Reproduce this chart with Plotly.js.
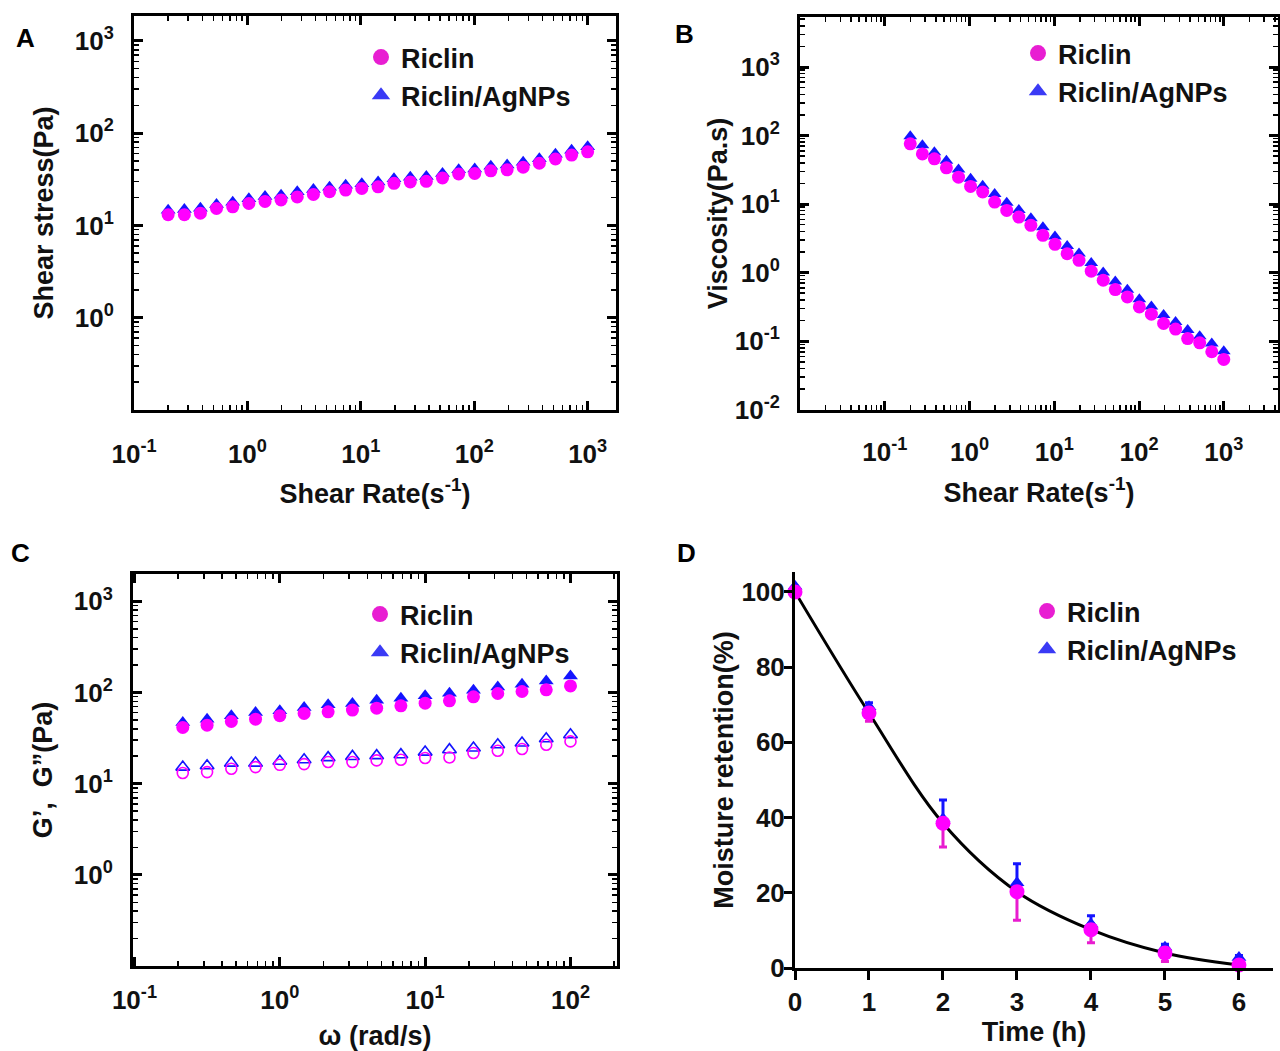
<!DOCTYPE html>
<html>
<head>
<meta charset="utf-8">
<script src="https://cdn.plot.ly/plotly-3.0.1.min.js"></script>
<style>html,body{margin:0;padding:0;background:#fff}#chart{width:1280px;height:1051px}</style>
</head>
<body>
<div id="chart"></div>
<script>
// ---------- data ----------
const seriesNames = ["Riclin", "Riclin/AgNPs"];

// Panel A & B: shear rate (s^-1)
const shearRate = [0.2,0.278,0.385,0.534,0.742,1.03,1.43,1.98,2.75,3.82,5.3,7.35,10.2,14.2,19.6,27.3,37.8,52.5,72.9,101,140,195,270,375,520,722,1000];
// Panel A: shear stress (Pa)
const stressRiclin = [13.1,13.1,13.6,15.3,15.9,17.3,18.2,18.9,20.4,21.7,23.2,24.2,25.2,26.2,28.6,29.6,30.1,32.7,36.1,36.6,39.1,40.1,42.8,47.2,52.5,57.9,62.8];
const stressAg     = [14.6,14.9,15.4,16.9,17.9,19.5,20.6,21.3,23.2,24.5,26.0,27.3,28.4,29.6,32.0,33.2,34.0,36.6,40.2,41.0,43.8,45.2,48.3,52.8,59.0,65.5,71.5];
// Panel B: viscosity (Pa.s)
const viscRiclin = [75.7,54,45.7,33.8,24.7,18.1,15.0,10.7,8.09,6.47,4.89,3.50,2.59,1.89,1.51,1.05,0.773,0.565,0.442,0.316,0.247,0.181,0.150,0.109,0.0946,0.070,0.054];
const viscAg     = [98,72,57,43,32,23.5,18.5,14,10.5,8.2,6.2,4.6,3.35,2.45,1.9,1.38,1.0,0.74,0.56,0.41,0.32,0.24,0.19,0.145,0.118,0.092,0.071];

// Panel C: angular frequency (rad/s), G' (filled) and G'' (open)
const omega = [0.215,0.316,0.464,0.681,1.0,1.47,2.15,3.16,4.64,6.81,10,14.7,21.5,31.6,46.4,68.1,100];
const gpRiclin  = [41.4,43.8,48.1,51.0,55.6,58.9,61.4,64.1,67.3,71.4,76.4,81.0,89.7,97.5,102.6,107,118];
const gpAg      = [47,51,55.6,60.4,63,68.5,73.3,75.8,82.5,86.7,92,98.3,106,115,123,134,152];
const gppRiclin = [13.1,13.4,14.6,15.2,16.1,16.4,17.3,17.3,18,18.3,19.1,19.4,21.7,23,24,26.7,29.1];
const gppAg     = [15.2,15.7,16.8,16.8,17.6,18.3,19.3,19.9,20.3,20.8,22.2,23.6,24.6,26.7,27.9,31.1,34.4];

// Panel D: moisture retention (%)
const timeH = [0,1,2,3,4,5,6];
const moistRiclin = [100,67.8,38.5,20.3,10.2,4.0,0.8];
const errRiclin   = [0,2.2,6.3,7.6,3.5,2.3,0.6];
const moistAg     = [101.5,69.5,39.7,22.7,11.7,5.5,2.8];
const errAg       = [0,1,5,5,2.2,0.8,0.5];
const noErr       = [0,0,0,0,0,0,0];

// tick values / labels
const ticksA_x = [0.1,1,10,100,1000];
const ticksA_y = [1,10,100,1000];
const ticksB_x = [0.1,1,10,100,1000];
const ticksB_y = [0.01,0.1,1,10,100,1000];
const ticksC_x = [0.1,1,10,100];
const ticksC_y = [1,10,100,1000];
const ticksD_x = [0,1,2,3,4,5,6];
const ticksD_y = [0,20,40,60,80,100];

// ---------- styling ----------
const FONT = "Liberation Sans, Arial, Helvetica, sans-serif";
const MAG = "#ff00ff";
const BLUE = "#1414ff";
const LEG_MAG = "#e81ed2";
const LEG_BLUE = "#3a3af5";
const W = 1280, H = 1051;
const px = v => v / W;
const py = v => 1 - v / H;

const tickFont = {family: FONT, size: 26, color: "#111", weight: 700};
const titleFont = {family: FONT, size: 27, color: "#111", weight: 700};

function powLabel(v) {
  const p = Math.round(Math.log10(v));
  return "10<sup>" + p + "</sup>";
}

function logAxis(domain, range, anchor, vals, title, standoff, labelStandoff) {
  return {
    type: "log", domain: domain, range: range, anchor: anchor,
    showgrid: false, zeroline: false,
    showline: true, linecolor: "#000", linewidth: 3, mirror: "allticks",
    ticks: "inside", ticklen: 9, tickwidth: 3, tickcolor: "#000",
    tickmode: "array", tickvals: vals, ticktext: vals.map(powLabel),
    tickfont: tickFont, ticklabelstandoff: labelStandoff,
    minor: {ticks: "inside", ticklen: 5, tickwidth: 1.5, tickcolor: "#000", dtick: "D1", showgrid: false},
    title: {text: title, font: titleFont, standoff: standoff}
  };
}

const legendBase = {
  font: {family: FONT, size: 27, color: "#111", weight: 700},
  bgcolor: "rgba(0,0,0,0)", xanchor: "left", yanchor: "top",
  itemsizing: "trace", tracegroupgap: 0
};

// legend-only entries (no data points), one pair per panel
function legendEntries(xa, ya, leg) {
  return [
    {x: [null], y: [null], xaxis: xa, yaxis: ya, mode: "markers", name: seriesNames[0], legend: leg, legendrank: 1,
     marker: {symbol: "circle", size: 18, color: LEG_MAG}},
    {x: [null], y: [null], xaxis: xa, yaxis: ya, mode: "markers", name: seriesNames[1], legend: leg, legendrank: 2,
     marker: {symbol: "triangle-up", size: 18, color: LEG_BLUE}}
  ];
}

const traces = [
  // Panel A
  {x: shearRate, y: stressAg, xaxis: "x", yaxis: "y", mode: "markers", name: seriesNames[1], showlegend: false,
   marker: {symbol: "triangle-up", size: 13, color: BLUE}},
  {x: shearRate, y: stressRiclin, xaxis: "x", yaxis: "y", mode: "markers", name: seriesNames[0], showlegend: false,
   marker: {symbol: "circle", size: 13, color: MAG}},
  // Panel B
  {x: shearRate, y: viscAg, xaxis: "x2", yaxis: "y2", mode: "markers", name: seriesNames[1], showlegend: false,
   marker: {symbol: "triangle-up", size: 12, color: BLUE}},
  {x: shearRate, y: viscRiclin, xaxis: "x2", yaxis: "y2", mode: "markers", name: seriesNames[0], showlegend: false,
   marker: {symbol: "circle", size: 13, color: MAG}},
  // Panel C
  {x: omega, y: gpAg, xaxis: "x3", yaxis: "y3", mode: "markers", name: seriesNames[1] + " G'", showlegend: false,
   marker: {symbol: "triangle-up", size: 13, color: BLUE}},
  {x: omega, y: gpRiclin, xaxis: "x3", yaxis: "y3", mode: "markers", name: seriesNames[0] + " G'", showlegend: false,
   marker: {symbol: "circle", size: 13, color: MAG}},
  {x: omega, y: gppAg, xaxis: "x3", yaxis: "y3", mode: "markers", name: seriesNames[1] + " G''", showlegend: false,
   marker: {symbol: "triangle-up-open", size: 12, color: BLUE, line: {width: 1.6}}},
  {x: omega, y: gppRiclin, xaxis: "x3", yaxis: "y3", mode: "markers", name: seriesNames[0] + " G''", showlegend: false,
   marker: {symbol: "circle-open", size: 11, color: MAG, line: {width: 1.6}}},
  // Panel D
  {x: timeH, y: moistRiclin, xaxis: "x4", yaxis: "y4", mode: "lines", name: "fit", showlegend: false,
   line: {shape: "spline", color: "#000", width: 3}, cliponaxis: false},
  {x: timeH, y: moistAg, xaxis: "x4", yaxis: "y4", mode: "markers", name: seriesNames[1], showlegend: false,
   marker: {symbol: "triangle-up", size: 13, color: BLUE}, cliponaxis: false,
   error_y: {type: "data", symmetric: false, array: errAg, arrayminus: noErr, color: BLUE, thickness: 3, width: 4}},
  {x: timeH, y: moistRiclin, xaxis: "x4", yaxis: "y4", mode: "markers", name: seriesNames[0], showlegend: false,
   cliponaxis: false,
   marker: {symbol: "circle", size: 15, color: MAG},
   error_y: {type: "data", symmetric: false, array: noErr, arrayminus: errRiclin, color: "#e81ccf", thickness: 3, width: 4}}
].concat(
  legendEntries("x", "y", "legend"),
  legendEntries("x2", "y2", "legend2"),
  legendEntries("x3", "y3", "legend3"),
  legendEntries("x4", "y4", "legend4")
);

const letterFont = {family: FONT, size: 26, color: "#000", weight: 700};
function letter(t, x, y) {
  return {text: t, x: px(x), y: py(y), xref: "paper", yref: "paper", xanchor: "center", yanchor: "middle", showarrow: false, font: letterFont};
}

const layout = {
  width: W, height: H,
  margin: {l: 0, r: 0, t: 0, b: 0},
  paper_bgcolor: "#fff", plot_bgcolor: "rgba(0,0,0,0)",
  showlegend: true,
  xaxis: logAxis([px(134), px(616)], [-1, 3.25], "y", ticksA_x, "Shear Rate(s<sup>-1</sup>)", 16, 19),
  yaxis: logAxis([py(410), py(16)], [-1, 3.27], "x", ticksA_y, "Shear stress(Pa)", 14, 12),
  xaxis2: logAxis([px(800), px(1278)], [-2, 3.64], "y2", ticksB_x, "Shear Rate(s<sup>-1</sup>)", 17, 17),
  yaxis2: logAxis([py(410), py(17)], [-2.005, 3.73], "x2", ticksB_y, "Viscosity(Pa.s)", 0, 12),
  xaxis3: logAxis([px(133), px(617)], [-1.01, 2.32], "y3", ticksC_x, "ω (rad/s)", 22, 9),
  yaxis3: logAxis([py(966), py(574)], [-1, 3.3], "x3", ticksC_y, "G’,  G”(Pa)", 14, 12),
  xaxis4: {
    domain: [px(795), px(1273)], range: [0, 6.46], anchor: "y4",
    showgrid: false, zeroline: false, showline: true, linecolor: "#000", linewidth: 3,
    ticks: "outside", ticklen: 9, tickwidth: 3, tickcolor: "#000",
    tickmode: "array", tickvals: ticksD_x, tickfont: tickFont, ticklabelstandoff: 0,
    title: {text: "Time (h)", font: titleFont, standoff: 0}
  },
  yaxis4: {
    domain: [py(968), py(572)], range: [0, 105.3], anchor: "x4",
    showgrid: false, zeroline: false, showline: true, linecolor: "#000", linewidth: 3,
    ticks: "outside", ticklen: 8, tickwidth: 3, tickcolor: "#000",
    tickmode: "array", tickvals: ticksD_y, tickfont: tickFont, ticklabelstandoff: -6,
    title: {text: "Moisture retention(%)", font: titleFont, standoff: 0}
  },
  legend:  Object.assign({}, legendBase, {x: px(361), y: py(33)}),
  legend2: Object.assign({}, legendBase, {x: px(1018), y: py(29)}),
  legend3: Object.assign({}, legendBase, {x: px(360), y: py(590)}),
  legend4: Object.assign({}, legendBase, {x: px(1027), y: py(587)}),
  annotations: [letter("A", 25, 38), letter("B", 684, 34), letter("C", 20, 553), letter("D", 686, 553)]
};

Plotly.newPlot("chart", traces, layout, {staticPlot: true, displayModeBar: false});
</script>
</body>
</html>
